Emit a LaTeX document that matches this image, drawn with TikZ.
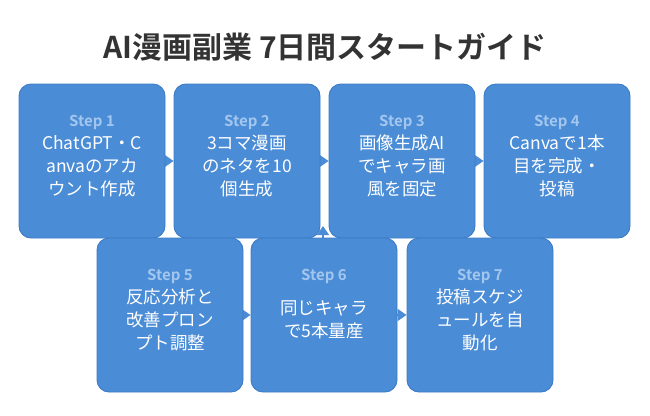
\documentclass[tikz,border=0pt]{standalone}
\usepackage{fontspec}
\setmainfont{Noto Sans CJK JP}[BoldFont={Noto Sans CJK JP Bold}]
\usetikzlibrary{arrows.meta,backgrounds}
\definecolor{boxfill}{HTML}{4A8CD6}
\definecolor{boxline}{HTML}{3C7BC6}
\definecolor{steplbl}{HTML}{A3C6EE}
\definecolor{titlecol}{HTML}{333333}
\tikzset{
  stepbox/.style={draw=boxline, fill=boxfill, line width=0.9pt, rounded corners=12pt,
    minimum width=146pt, minimum height=154pt, inner sep=0pt},
  steplabel/.style={text=steplbl, font=\fontsize{15}{17}\selectfont\bfseries, inner sep=0pt},
  body/.style={text=white, font=\fontsize{17.5}{23}\selectfont, align=center, inner sep=0pt},
  arr/.style={draw=boxfill, line width=1.5pt, -{Triangle[length=9pt,width=12pt]}},
}
\begin{document}
\begin{tikzpicture}[x=1pt,y=-1pt]
\useasboundingbox (0,0) rectangle (650,415);
\node[text=titlecol, font=\fontsize{30}{34}\selectfont\bfseries] (title) at (325,47) {AI漫画副業 7日間スタートガイド};

\node[stepbox] (b1) at (92,161) {};
\node[stepbox] (b2) at (247,161) {};
\node[stepbox] (b3) at (402,161) {};
\node[stepbox] (b4) at (557,161) {};
\node[stepbox] (b5) at (170,315) {};
\node[stepbox] (b6) at (324,315) {};
\node[stepbox] (b7) at (480,315) {};

\foreach \n/\s in {b1/1,b2/2,b3/3,b4/4,b5/5,b6/6,b7/7}{
  \node[steplabel] (\n lbl) at ([yshift=-39pt]\n.north) {Step \s};
}
\node[body] (b1t) at ([yshift=-5pt]b1.center) {ChatGPT・C\\anvaのアカ\\ウント作成};
\node[body] (b2t) at ([yshift=-5pt]b2.center) {3コマ漫画\\のネタを10\\個生成};
\node[body] (b3t) at ([yshift=-5pt]b3.center) {画像生成AI\\でキャラ画\\風を固定};
\node[body] (b4t) at ([yshift=-5pt]b4.center) {Canvaで1本\\目を完成・\\投稿};
\node[body] (b5t) at ([yshift=-5pt]b5.center) {反応分析と\\改善プロン\\プト調整};
\node[body] (b6t) at ([yshift=-5pt]b6.center) {同じキャラ\\で5本量産};
\node[body] (b7t) at ([yshift=-5pt]b7.center) {投稿スケジ\\ュールを自\\動化};

\coordinate (uptip) at (323,226);
\begin{pgfonlayer}{background}
\draw[arr] (b1.east) -- (b2.west);
\draw[arr] (b2.east) -- (b3.west);
\draw[arr] (b3.east) -- (b4.west);
\draw[arr] (b5.east) -- (b6.west);
\draw[arr] (b6.east) -- (b7.west);
\draw[arr] ([xshift=-1pt]b6.north) -- (uptip);
\end{pgfonlayer}
\end{tikzpicture}
\end{document}
